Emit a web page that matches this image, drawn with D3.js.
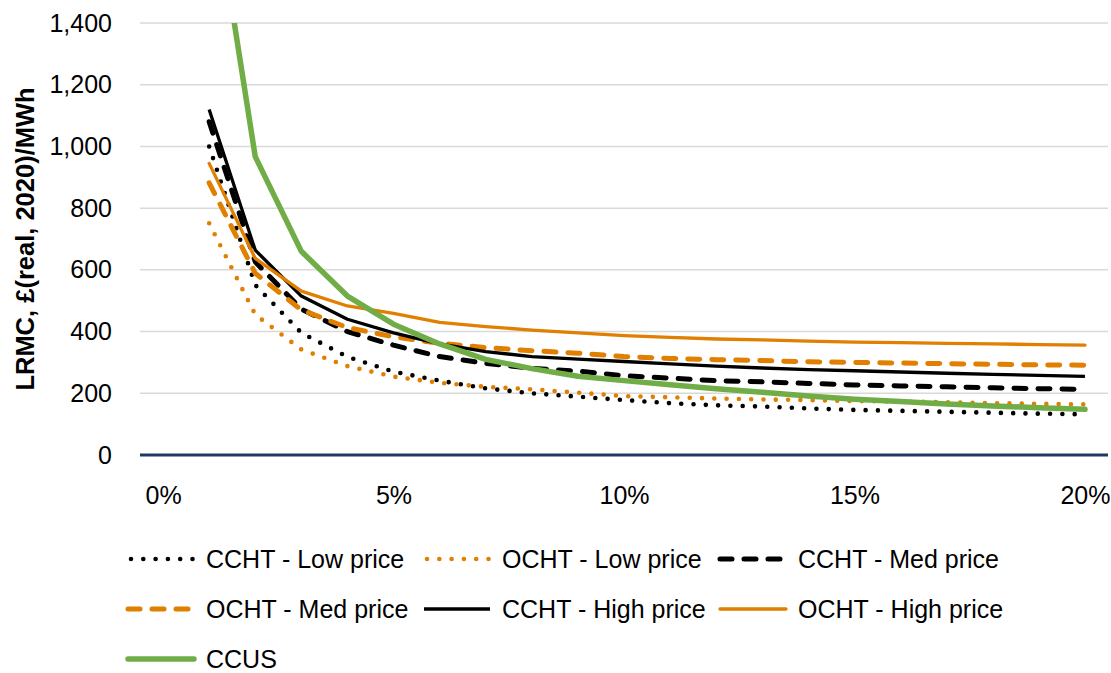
<!DOCTYPE html>
<html>
<head>
<meta charset="utf-8">
<script src="https://cdn.jsdelivr.net/npm/d3@7"></script>
<style>
  html, body { margin: 0; padding: 0; background: #fff; }
  svg { display: block; font-family: "Liberation Sans", Arial, sans-serif; }
</style>
</head>
<body>
<svg id="chart" width="1111" height="673"></svg>
<script>
// Capacity share categories (0% has no data)
const categories = ["0%","1%","2%","3%","4%","5%","6%","7%","8%","9%","10%",
  "11%","12%","13%","14%","15%","16%","17%","18%","19%","20%"];
const xTickLabels = ["0%","5%","10%","15%","20%"];
const yTicks = [0, 200, 400, 600, 800, 1000, 1200, 1400];

// LRMC, £(real, 2020)/MWh, one value per category from 1% to 20%
const cchtLow  = [null,1000,551,396,318,270,241,216,200,189,178,168,161,157,151,146,143,140,137,134,132];
const ochtLow  = [null,751,455,342,288,254,234,221,213,202,191,187,183,180,178,175,173,171,168,166,164];
const cchtMed  = [null,1080,626,473,400,356,319,297,281,272,257,249,241,237,232,227,224,221,218,215,213];
const ochtMed  = [null,882,589,470,413,383,362,348,338,330,319,313,309,306,302,300,298,296,294,292,291];
const cchtHigh = [null,1120,664,515,440,396,360,335,319,311,303,295,288,282,277,273,269,265,261,258,255];
const ochtHigh = [null,945,637,531,483,459,430,416,405,396,387,381,376,373,369,366,364,362,360,358,356];
const ccus     = [null,1920,967,660,515,424,360,310,280,255,241,228,215,203,191,181,173,165,159,153,148];

const seriesNames = ["CCHT - Low price","OCHT - Low price","CCHT - Med price",
  "OCHT - Med price","CCHT - High price","OCHT - High price","CCUS"];
const seriesValues = [cchtLow, ochtLow, cchtMed, ochtMed, cchtHigh, ochtHigh, ccus];

const BLACK = "#000000", ORANGE = "#E07F00", GREEN = "#70AD47";
const DOTS = "0 12.3";
const styles = [
  { color: BLACK,  width: 4.6, dash: DOTS,    cap: "round" },
  { color: ORANGE, width: 4.6, dash: DOTS,    cap: "round" },
  { color: BLACK,  width: 5,   dash: "12 12", cap: "round" },
  { color: ORANGE, width: 5,   dash: "12 12", cap: "round" },
  { color: BLACK,  width: 3.3, dash: null,    cap: "butt" },
  { color: ORANGE, width: 3.3, dash: null,    cap: "round" },
  { color: GREEN,  width: 5.5, dash: null,    cap: "round" }
];

const svg = d3.select("#chart");
const plot = { left: 140, right: 1108, top: 23, bottom: 455 };

const x = d3.scalePoint().domain(categories).range([plot.left, plot.right]).padding(0.5);
const y = d3.scaleLinear().domain([0, 1400]).range([plot.bottom, plot.top]);

// Gridlines
svg.append("g").selectAll("line").data(yTicks.filter(d => d > 0)).join("line")
  .attr("x1", plot.left).attr("x2", plot.right)
  .attr("y1", d => y(d)).attr("y2", d => y(d))
  .attr("stroke", "#D9D9D9").attr("stroke-width", 1.5);

// Y axis labels
const yAxis = svg.append("g").attr("transform", `translate(${plot.left},0)`)
  .call(d3.axisLeft(y).tickValues(yTicks).tickFormat(d3.format(",")).tickSize(0).tickPadding(28));
yAxis.select(".domain").remove();
yAxis.selectAll("text").attr("font-size", 25).attr("fill", "#000")
  .attr("font-family", "Liberation Sans, Arial, sans-serif");

// X axis labels
const xAxis = svg.append("g").attr("transform", `translate(0,${plot.bottom})`)
  .call(d3.axisBottom(x).tickValues(xTickLabels).tickSize(0).tickPadding(31));
xAxis.select(".domain").remove();
xAxis.selectAll("text").attr("font-size", 25).attr("fill", "#000")
  .attr("font-family", "Liberation Sans, Arial, sans-serif");

// Zero baseline
svg.append("line")
  .attr("x1", plot.left).attr("x2", plot.right)
  .attr("y1", y(0)).attr("y2", y(0))
  .attr("stroke", "#203864").attr("stroke-width", 3);

// Y axis title
svg.append("text")
  .attr("transform", `translate(34,${(plot.top + plot.bottom) / 2}) rotate(-90)`)
  .attr("text-anchor", "middle")
  .attr("font-size", 25.5).attr("font-weight", "bold").attr("fill", "#000")
  .text("LRMC, £(real, 2020)/MWh");

// Series lines, clipped to the plot area
svg.append("defs").append("clipPath").attr("id", "plotClip")
  .append("rect").attr("x", plot.left).attr("y", plot.top)
  .attr("width", plot.right - plot.left).attr("height", plot.bottom - plot.top + 10);

const line = d3.line()
  .defined(d => d.v != null)
  .x(d => x(d.c)).y(d => y(d.v));

const gLines = svg.append("g").attr("clip-path", "url(#plotClip)");
seriesValues.forEach((vals, i) => {
  const st = styles[i];
  gLines.append("path")
    .datum(vals.map((v, j) => ({ c: categories[j], v })))
    .attr("d", line)
    .attr("fill", "none")
    .attr("stroke", st.color)
    .attr("stroke-width", st.width)
    .attr("stroke-dasharray", st.dash)
    .attr("stroke-linecap", st.cap)
    .attr("stroke-linejoin", "round");
});

// Legend
const legendCols = [128, 424, 720];
const legendRows = [559, 609, 659];
const symLen = 66;
const legend = svg.append("g");
seriesNames.forEach((name, i) => {
  const st = styles[i];
  const cx = legendCols[i % 3];
  const cy = legendRows[Math.floor(i / 3)];
  const isDot = st.dash === DOTS;
  legend.append("line")
    .attr("x1", cx + (isDot ? 3 : 0)).attr("x2", cx + symLen)
    .attr("y1", cy).attr("y2", cy)
    .attr("stroke", st.color)
    .attr("stroke-width", st.width)
    .attr("stroke-dasharray", st.dash)
    .attr("stroke-linecap", st.cap === "butt" ? "butt" : "round");
  legend.append("text")
    .attr("x", cx + symLen + 12).attr("y", cy + 9)
    .attr("font-size", 25).attr("fill", "#000")
    .text(name);
});
</script>
</body>
</html>
